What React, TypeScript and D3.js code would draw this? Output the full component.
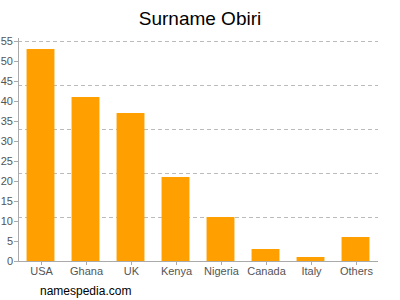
import React from "react";
import * as d3 from "d3";

const categories = ["USA", "Ghana", "UK", "Kenya", "Nigeria", "Canada", "Italy", "Others"];
const values = [53, 41, 37, 21, 11, 3, 1, 6];
const yTicks = [0, 5, 10, 15, 20, 25, 30, 35, 40, 45, 50, 55];
const gridValues = [11, 22, 33, 44, 55];

export default function App() {
  const W = 400, H = 300;
  const left = 18, right = 378, top = 41, bottom = 261;
  const x = d3.scaleBand().domain(categories).range([left, right]).paddingInner(0.38).paddingOuter(0.19);
  const y = d3.scaleLinear().domain([0, 55]).range([bottom, top]);
  const font = "Arial, 'Liberation Sans', Helvetica, sans-serif";
  return (
    <svg width={W} height={H} style={{ position: "absolute", left: 0, top: 0 }} fontFamily={font}>
      <rect width={W} height={H} fill="#fff" />
      <text x={200} y={25} textAnchor="middle" fontSize={19} fill="#000">Surname Obiri</text>
      {gridValues.map((g) => (
        <line key={g} x1={left} x2={right} y1={Math.round(y(g)) + 0.5} y2={Math.round(y(g)) + 0.5}
          stroke="#bbb" strokeDasharray="4,3" strokeWidth={1} />
      ))}
      {categories.map((c, i) => (
        <rect key={c} x={x(c)} y={y(values[i])} width={x.bandwidth()} height={bottom - y(values[i])} fill="#ffa000" />
      ))}
      <line x1={left + 0.5} x2={left + 0.5} y1={top - 3} y2={bottom} stroke="#aaa" />
      <line x1={left} x2={right} y1={bottom + 0.5} y2={bottom + 0.5} stroke="#aaa" />
      {yTicks.map((t) => (
        <g key={t}>
          <line x1={left - 4} x2={left} y1={Math.round(y(t)) + 0.5} y2={Math.round(y(t)) + 0.5} stroke="#aaa" />
          <text x={left - 5} y={y(t) + 4} textAnchor="end" fontSize={11} fill="#555">{t}</text>
        </g>
      ))}
      {categories.map((c) => {
        const cx = Math.round((x(c) as number) + x.bandwidth() / 2) + 0.5;
        return (
          <g key={c}>
            <line x1={cx} x2={cx} y1={bottom} y2={bottom + 4} stroke="#aaa" />
            <text x={cx} y={bottom + 14} textAnchor="middle" fontSize={11} fill="#555">{c}</text>
          </g>
        );
      })}
      <text x={40} y={295} fontSize={12} fill="#000">namespedia.com</text>
    </svg>
  );
}
